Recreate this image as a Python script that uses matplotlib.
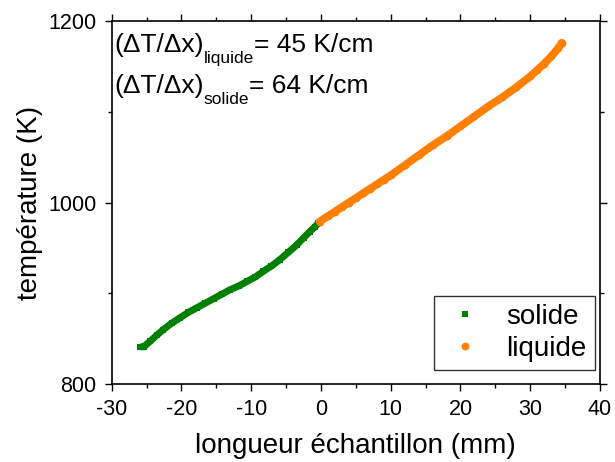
import matplotlib
matplotlib.use("Agg")
import matplotlib.pyplot as plt
from matplotlib.ticker import MultipleLocator
from matplotlib.transforms import offset_copy

plt.rcParams['font.family'] = ['Liberation Sans', 'DejaVu Sans']
plt.rcParams['axes.unicode_minus'] = False

# Data
solide_x = [-25.9, -25.4, -24.5, -23.5, -22.6, -21.4, -20.2, -19.0, -17.8, -16.6,
            -15.4, -14.2, -13.0, -11.8, -10.6, -9.4, -8.3, -7.1, -5.9, -4.7,
            -3.5, -2.5, -1.6, -0.9, -0.4]
solide_T = [841, 841, 847, 854, 860, 867, 873, 879, 884, 889,
            894, 899, 904, 908, 913, 918, 924, 930, 937, 945,
            953, 961, 968, 973, 977]

liquide_x = [-0.2, 1, 2, 3, 4, 5, 6, 7, 8, 9, 10, 12, 14, 16, 18, 20, 22, 24,
             26, 28, 30, 31, 32, 33, 34, 34.5]
liquide_T = [979, 985, 990, 995, 1000, 1005, 1010, 1015, 1020, 1025, 1030, 1041,
             1052, 1063, 1073, 1084, 1095, 1106, 1116, 1127, 1139, 1146, 1153,
             1161, 1170, 1176]

x_ticks = [-30, -20, -10, 0, 10, 20, 30, 40]
y_ticks = [800, 1000, 1200]

green = '#008000'
orange = '#ff8000'

fig = plt.figure(figsize=(6.15, 4.62), dpi=100)
ax = fig.add_axes([0.1816, 0.1688, 0.794, 0.7857])

# dense marker trails drawn as thick strokes
ax.plot(solide_x, solide_T, color=green, lw=5.0, solid_capstyle='butt',
        solid_joinstyle='miter', zorder=2)
ax.plot(liquide_x, liquide_T, color=orange, lw=5.6, solid_capstyle='round',
        solid_joinstyle='round', zorder=3)
ax.plot(solide_x, solide_T, ls='none', marker='s', ms=5.0, mew=0, color=green,
        label='solide', zorder=2)
ax.plot(liquide_x, liquide_T, ls='none', marker='o', ms=5.6, mew=0, color=orange,
        label='liquide', zorder=3)

ax.set_xlim(-30, 40)
ax.set_ylim(800, 1200)
ax.set_xticks(x_ticks)
ax.set_yticks(y_ticks)
ax.xaxis.set_minor_locator(MultipleLocator(5))
ax.yaxis.set_minor_locator(MultipleLocator(100))
ax.tick_params(which='major', direction='out', length=5, width=1,
               labelsize=15.5, pad=6)
ax.tick_params(which='minor', direction='out', length=3, width=1)
ax.tick_params(which='both', top=True, right=True)
for s in ax.spines.values():
    s.set_linewidth(1.2)

ax.set_xlabel('longueur échantillon (mm)', fontsize=20, labelpad=9)
ax.set_ylabel('température (K)', fontsize=20, labelpad=4)

# annotation with manual subscripts
fig.canvas.draw()
renderer = fig.canvas.get_renderer()
lines = [(0.9146, 'liquide', '= 45 K/cm'), (0.8017, 'solide', '= 64 K/cm')]
for ybase, sub, rest in lines:
    t1 = ax.text(0.005, ybase, '(\u0394T/\u0394x)', transform=ax.transAxes,
                 fontsize=19, va='baseline', ha='left')
    bb = t1.get_window_extent(renderer)
    xa = ax.transAxes.inverted().transform((bb.x1, 0))[0]
    t2 = ax.text(xa, ybase, sub, fontsize=12.5, va='baseline', ha='left',
                 transform=offset_copy(ax.transAxes, fig, x=0, y=-11, units='dots'))
    bb2 = t2.get_window_extent(renderer)
    xb = ax.transAxes.inverted().transform((bb2.x1, 0))[0]
    ax.text(xb, ybase, rest, transform=ax.transAxes, fontsize=19,
            va='baseline', ha='left')

leg = ax.legend(loc='lower right', bbox_to_anchor=(0.9898, 0.0386),
                borderaxespad=0, fontsize=20, frameon=True, fancybox=False,
                edgecolor='black', handletextpad=0.7,
                labelspacing=0.2, borderpad=0.3, handlelength=1.6)
leg.get_frame().set_linewidth(1.0)

fig.savefig('out.png', dpi=100)
